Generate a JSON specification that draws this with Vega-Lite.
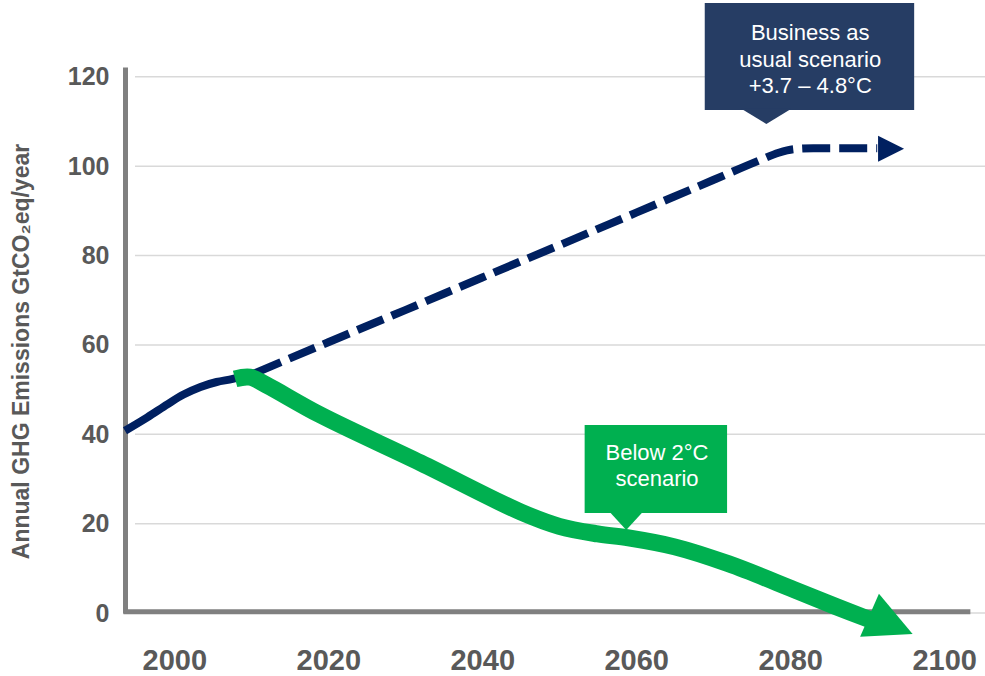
{
  "$schema": "https://vega.github.io/schema/vega-lite/v6.json",
  "width": 860,
  "height": 546,
  "autosize": {"type": "none"},
  "padding": {"left": 125, "top": 67, "right": 0, "bottom": 63},
  "background": "white",
  "config": {"view": {"stroke": null}, "font": "Liberation Sans"},
  "datasets": {
    "grid": [{"v": 0}, {"v": 20}, {"v": 40}, {"v": 60}, {"v": 80}, {"v": 100}, {"v": 120}],
    "history": [
      {"year": 1993.6, "value": 40.8},
      {"year": 1996.5, "value": 43.8},
      {"year": 1999.1, "value": 46.7},
      {"year": 2001.2, "value": 48.9},
      {"year": 2003.4, "value": 50.6},
      {"year": 2005.5, "value": 51.7},
      {"year": 2007.6, "value": 52.4},
      {"year": 2010.5, "value": 53.7}
    ],
    "bau": [
      {"year": 2010.5, "value": 53.7},
      {"year": 2020, "value": 60.6},
      {"year": 2030, "value": 67.8},
      {"year": 2040, "value": 75.1},
      {"year": 2050, "value": 82.3},
      {"year": 2060, "value": 89.6},
      {"year": 2070, "value": 96.9},
      {"year": 2076, "value": 101.3},
      {"year": 2078.5, "value": 103.0},
      {"year": 2080.5, "value": 103.8},
      {"year": 2083, "value": 104.0},
      {"year": 2091.3, "value": 104.0}
    ],
    "below2": [
      {"year": 2007.9, "value": 52.4},
      {"year": 2009.8, "value": 52.8},
      {"year": 2012, "value": 51.0},
      {"year": 2019, "value": 44.3},
      {"year": 2032, "value": 33.6},
      {"year": 2045, "value": 22.6},
      {"year": 2050, "value": 19.4},
      {"year": 2055, "value": 17.7},
      {"year": 2059, "value": 16.8},
      {"year": 2065, "value": 14.8},
      {"year": 2072, "value": 11.0},
      {"year": 2080.4, "value": 5.3},
      {"year": 2086, "value": 1.4},
      {"year": 2090.5, "value": -1.6}
    ],
    "bauArrow": [{"year": 2093.1, "value": 103.9}],
    "b2Arrow": [{"year": 2093.1, "value": -2.6}],
    "bauBox": [{"x0": 2068.9, "x1": 2096.1, "y0": 112.6, "y1": 136.5, "px": 2076.9, "tx": 2082.6, "ty": 129.8, "label": "Business as\nusual scenario\n+3.7 – 4.8°C"}],
    "b2Box": [{"x0": 2053.3, "x1": 2071.8, "y0": 22.4, "y1": 42.1, "px": 2058.7, "tx": 2062.7, "ty": 35.9, "label": "Below 2°C\nscenario"}],
    "baseline": [{"x0": 1993.4, "x1": 2103.4, "v": 0.3}]
  },
  "layer": [
    {
      "data": {"name": "grid"},
      "mark": {"type": "rule", "color": "#d9d9d9", "strokeWidth": 1.5},
      "encoding": {
        "y": {"field": "v", "type": "quantitative", "scale": {"domain": [0, 122.2], "nice": false, "zero": false},
          "axis": {"values": [0, 20, 40, 60, 80, 100, 120], "grid": false, "ticks": false, "tickSize": 0, "domain": true, "domainColor": "#808080", "domainWidth": 5,
            "labelFontSize": 25, "labelFontWeight": "bold", "labelColor": "#595959", "labelPadding": 16,
            "title": "Annual GHG Emissions GtCO₂eq/year", "titleFontSize": 23, "titleFontWeight": "bold", "titleColor": "#595959", "titlePadding": 34, "titleY": 284}},
        "x": {"datum": 1994.9, "type": "quantitative", "scale": {"domain": [1993.6, 2105.3], "nice": false, "zero": false},
          "axis": {"values": [2000, 2020, 2040, 2060, 2080, 2100], "format": "d", "grid": false, "ticks": false, "tickSize": 0, "domain": false,
            "labelFontSize": 29, "labelFontWeight": "bold", "labelColor": "#595959", "labelPadding": 33, "title": null}},
        "x2": {"datum": 2105.3}
      }
    },
    {
      "data": {"name": "baseline"},
      "mark": {"type": "rule", "color": "#808080", "strokeWidth": 5},
      "encoding": {
        "x": {"field": "x0", "type": "quantitative"},
        "x2": {"field": "x1"},
        "y": {"field": "v", "type": "quantitative"}
      }
    },
    {
      "data": {"name": "history"},
      "mark": {"type": "line", "color": "#002060", "strokeWidth": 8, "interpolate": "catmull-rom", "strokeCap": "butt"},
      "encoding": {
        "x": {"field": "year", "type": "quantitative"},
        "y": {"field": "value", "type": "quantitative"}
      }
    },
    {
      "data": {"name": "bau"},
      "mark": {"type": "line", "color": "#002060", "strokeWidth": 8, "interpolate": "monotone", "strokeDash": [28, 9], "strokeCap": "butt"},
      "encoding": {
        "x": {"field": "year", "type": "quantitative"},
        "y": {"field": "value", "type": "quantitative"}
      }
    },
    {
      "data": {"name": "bauArrow"},
      "mark": {"type": "point", "shape": "M-1,-1L1,0L-1,1Z", "filled": true, "color": "#002060", "opacity": 1, "size": 676},
      "encoding": {
        "x": {"field": "year", "type": "quantitative"},
        "y": {"field": "value", "type": "quantitative"}
      }
    },
    {
      "data": {"name": "below2"},
      "mark": {"type": "line", "color": "#00b050", "strokeWidth": 17, "interpolate": "catmull-rom", "strokeCap": "butt"},
      "encoding": {
        "x": {"field": "year", "type": "quantitative"},
        "y": {"field": "value", "type": "quantitative"}
      }
    },
    {
      "data": {"name": "b2Arrow"},
      "mark": {"type": "point", "shape": "M-1,-1L1,0L-1,1Z", "filled": true, "color": "#00b050", "opacity": 1, "size": 2209, "angle": 23.6},
      "encoding": {
        "x": {"field": "year", "type": "quantitative"},
        "y": {"field": "value", "type": "quantitative"}
      }
    },
    {
      "data": {"name": "bauBox"},
      "layer": [
        {"mark": {"type": "rect", "color": "#263d64"},
          "encoding": {"x": {"field": "x0", "type": "quantitative"}, "x2": {"field": "x1"}, "y": {"field": "y0", "type": "quantitative"}, "y2": {"field": "y1"}}},
        {"mark": {"type": "point", "shape": "M-1,-0.05L1,-0.05L0,0.56Z", "filled": true, "color": "#263d64", "opacity": 1, "size": 2500},
          "encoding": {"x": {"field": "px", "type": "quantitative"}, "y": {"field": "y0", "type": "quantitative"}}},
        {"mark": {"type": "text", "color": "white", "fontSize": 22, "lineHeight": 26.5, "lineBreak": "\n", "align": "center", "baseline": "middle"},
          "encoding": {"x": {"field": "tx", "type": "quantitative"}, "y": {"field": "ty", "type": "quantitative"}, "text": {"field": "label"}}}
      ]
    },
    {
      "data": {"name": "b2Box"},
      "layer": [
        {"mark": {"type": "rect", "color": "#00b050"},
          "encoding": {"x": {"field": "x0", "type": "quantitative"}, "x2": {"field": "x1"}, "y": {"field": "y0", "type": "quantitative"}, "y2": {"field": "y1"}}},
        {"mark": {"type": "point", "shape": "M-1,-0.05L1,-0.05L0,1.03Z", "filled": true, "color": "#00b050", "opacity": 1, "size": 1089},
          "encoding": {"x": {"field": "px", "type": "quantitative"}, "y": {"field": "y0", "type": "quantitative"}}},
        {"mark": {"type": "text", "color": "white", "fontSize": 22, "lineHeight": 26, "lineBreak": "\n", "align": "center", "baseline": "middle"},
          "encoding": {"x": {"field": "tx", "type": "quantitative"}, "y": {"field": "ty", "type": "quantitative"}, "text": {"field": "label"}}}
      ]
    }
  ]
}
